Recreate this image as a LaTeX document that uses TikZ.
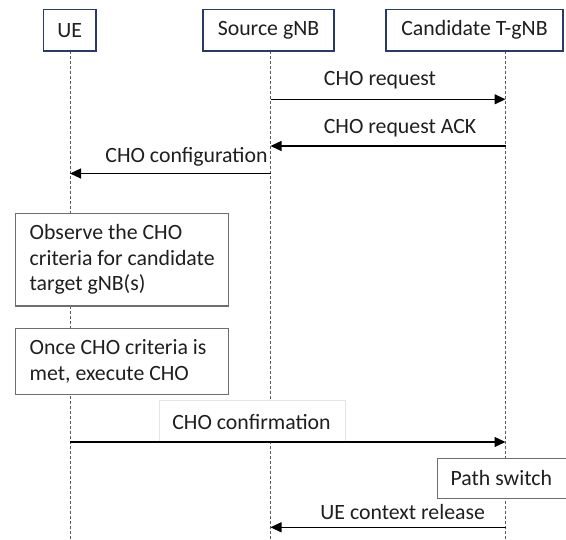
\documentclass[tikz,border=0pt]{standalone}
\usepackage{fontspec}
\setmainfont{Carlito}
\usetikzlibrary{arrows.meta}
\definecolor{hdrblue}{RGB}{40,58,104}
\definecolor{boxgray}{RGB}{110,110,110}
\definecolor{lifegray}{RGB}{90,90,90}
\tikzset{
  every node/.style={font=\fontsize{21.8}{25.5}\selectfont, text=black!88},
  header/.style={draw=hdrblue, line width=1.5pt, fill=white, rectangle,
    inner sep=0pt},
  lifeline/.style={draw=lifegray, line width=0.9pt, dash pattern=on 3pt off 2pt},
  procbox/.style={draw=boxgray, line width=1.2pt, fill=white, rectangle,
    inner sep=0pt},
  proctext/.style={align=left, inner sep=0pt, anchor=west},
  msg/.style={draw=black, line width=1.2pt,
    -{Triangle[length=11pt,width=10pt]}},
  msglabel/.style={inner sep=0pt},
}
\begin{document}
\begin{tikzpicture}[x=1pt,y=-1pt]
\useasboundingbox[fill=white] (0,0) rectangle (566,540);

% lifeline end points
\coordinate (ueTop) at (70,51);
\coordinate (ueBot) at (70,540);
\coordinate (srcTop) at (270.5,51);
\coordinate (srcBot) at (270.5,540);
\coordinate (tgtTop) at (505.5,51);
\coordinate (tgtBot) at (505.5,540);

\draw[lifeline] (ueTop) -- (ueBot);
\draw[lifeline] (srcTop) -- (srcBot);
\draw[lifeline] (tgtTop) -- (tgtBot);

% participants
\node[header, minimum width=52.7pt, minimum height=41.5pt] (ue) at (69.7,30.3) {UE};
\node[header, minimum width=131pt, minimum height=41.5pt] (src) at (268.5,30.3) {Source gNB};
\node[header, minimum width=177pt, minimum height=41.5pt] (tgt) at (474.5,30.3) {Candidate T-gNB};

% local actions at the UE
\node[procbox, minimum width=213.4pt, minimum height=92.7pt] (observe) at (122,259.7) {};
\node[proctext] (observeTxt) at (29.5,259.7)
  {Observe the CHO\\criteria for candidate\\target gNB(s)};
\node[procbox, minimum width=213.4pt, minimum height=66pt] (execute) at (122,361.3) {};
\node[proctext] (executeTxt) at (29.5,361.5)
  {Once CHO criteria is\\met, execute CHO};

% label panel of the confirmation message
\node[draw=black!10, line width=0.6pt, fill=white, minimum width=185.7pt,
  minimum height=41pt, inner sep=0pt] (confbox) at (252.2,421.2) {};
\node[msglabel] (confLbl) at (251.5,421.7) {CHO confirmation};

% path switch at the target
\node[draw=boxgray, line width=1.2pt, fill=white, minimum width=129.3pt,
  minimum height=40pt, inner sep=0pt] (pathBox) at (502.3,478.3) {};
\node[msglabel] (pathLbl) at (501.3,478.3) {Path switch};

% message end points on the lifelines
\coordinate (m1s) at (270.5,99.3);   \coordinate (m1t) at (505.5,99.3);
\coordinate (m2t) at (505.5,146);    \coordinate (m2s) at (270.5,146);
\coordinate (m3s) at (270.5,173.5);  \coordinate (m3u) at (70,173.5);
\coordinate (m4u) at (70,442);       \coordinate (m4t) at (505.5,442);
\coordinate (m5t) at (505.5,527.3);  \coordinate (m5s) at (270.5,527.3);

\draw[msg] (m1s) -- (m1t);
\draw[msg] (m2t) -- (m2s);
\draw[msg] (m3s) -- (m3u);
\draw[msg] (m4u) -- (m4t);
\draw[msg] (m5t) -- (m5s);

% message labels
\node[msglabel] (l1) at (380,80) {CHO request};
\node[msglabel] (l2) at (400,128.5) {CHO request ACK};
\node[msglabel] (l3) at (186.5,157) {CHO configuration};
\node[msglabel] (l5) at (402.7,512) {UE context release};
\end{tikzpicture}
\end{document}
